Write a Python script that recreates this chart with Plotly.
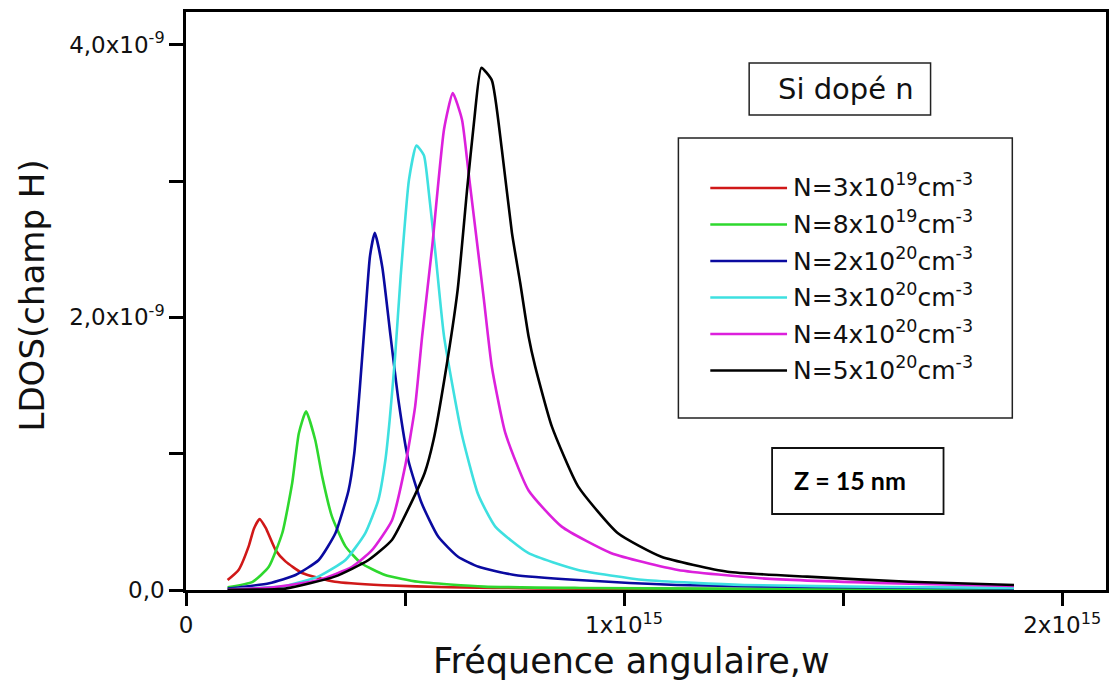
import plotly.graph_objects as go

# Angular frequency in units of 1e15 rad/s, LDOS in units of 1e-9
w_red = [0.095, 0.12, 0.143, 0.155, 0.168, 0.182, 0.205, 0.227, 0.265, 0.34, 0.45, 0.6, 0.8, 1.0, 1.4, 1.89]
ldos_red = [0.073, 0.147, 0.32, 0.45, 0.52, 0.455, 0.29, 0.21, 0.125, 0.06, 0.035, 0.02, 0.012, 0.008, 0.005, 0.003]

w_green = [0.095, 0.152, 0.189, 0.22, 0.2424, 0.2576, 0.274, 0.295, 0.311, 0.333, 0.364, 0.40, 0.4545, 0.53, 0.68, 0.9, 1.2, 1.89]
ldos_green = [0.02, 0.06, 0.17, 0.42, 0.785, 1.15, 1.31, 1.10, 0.83, 0.54, 0.32, 0.196, 0.11, 0.06, 0.025, 0.015, 0.01, 0.005]

w_blue = [0.095, 0.19, 0.25, 0.303, 0.341, 0.371, 0.384, 0.396, 0.409, 0.42, 0.431, 0.448, 0.467, 0.485, 0.5076, 0.538, 0.576, 0.621, 0.668, 0.75, 0.895, 1.12, 1.5, 1.89]
ldos_blue = [0.01, 0.05, 0.11, 0.22, 0.416, 0.73, 1.0, 1.45, 2.0, 2.45, 2.62, 2.37, 1.86, 1.39, 0.95, 0.636, 0.39, 0.244, 0.17, 0.11, 0.073, 0.037, 0.02, 0.012]

w_cyan = [0.095, 0.227, 0.303, 0.364, 0.409, 0.439, 0.455, 0.465, 0.477, 0.490, 0.509, 0.526, 0.543, 0.5545, 0.57, 0.589, 0.629, 0.667, 0.706, 0.782, 0.895, 1.047, 1.274, 1.6, 1.89]
ldos_cyan = [0.005, 0.03, 0.10, 0.22, 0.416, 0.66, 0.95, 1.25, 1.7, 2.3, 3.01, 3.26, 3.19, 2.91, 2.45, 1.86, 1.15, 0.70, 0.465, 0.27, 0.147, 0.073, 0.037, 0.022, 0.015]

w_magenta = [0.095, 0.2, 0.303, 0.379, 0.424, 0.47, 0.5, 0.523, 0.539, 0.562, 0.589, 0.609, 0.63, 0.645, 0.668, 0.68, 0.698, 0.729, 0.782, 0.8576, 0.971, 1.123, 1.312, 1.6, 1.89]
ldos_magenta = [0.003, 0.02, 0.073, 0.17, 0.29, 0.51, 0.905, 1.345, 1.86, 2.52, 3.38, 3.645, 3.45, 3.06, 2.45, 2.13, 1.64, 1.15, 0.73, 0.465, 0.27, 0.147, 0.086, 0.05, 0.03]

w_black = [0.095, 0.227, 0.341, 0.4167, 0.47, 0.523, 0.545, 0.565, 0.59, 0.62, 0.642, 0.658, 0.674, 0.698, 0.721, 0.744, 0.763, 0.782, 0.797, 0.835, 0.895, 0.986, 1.085, 1.236, 1.418, 1.65, 1.89]
ldos_black = [0.002, 0.01, 0.10, 0.22, 0.367, 0.70, 0.86, 1.1, 1.55, 2.2, 2.95, 3.45, 3.83, 3.74, 3.23, 2.62, 2.25, 1.86, 1.64, 1.20, 0.76, 0.416, 0.244, 0.134, 0.098, 0.06, 0.037]

series_names = [
    "N=3x10<sup>19</sup>cm<sup>-3</sup>",
    "N=8x10<sup>19</sup>cm<sup>-3</sup>",
    "N=2x10<sup>20</sup>cm<sup>-3</sup>",
    "N=3x10<sup>20</sup>cm<sup>-3</sup>",
    "N=4x10<sup>20</sup>cm<sup>-3</sup>",
    "N=5x10<sup>20</sup>cm<sup>-3</sup>",
]
series_colors = ["#d01818", "#2ed82e", "#0a0aa0", "#3ee0e0", "#dc20dc", "#000000"]
series_x = [w_red, w_green, w_blue, w_cyan, w_magenta, w_black]
series_y = [ldos_red, ldos_green, ldos_blue, ldos_cyan, ldos_magenta, ldos_black]

x_tickvals = [0, 1, 2]
x_ticktext = ["0", "1x10<sup>15</sup>", "2x10<sup>15</sup>"]
y_tickvals = [0, 2, 4]
y_ticktext = ["0,0", "2,0x10<sup>-9</sup>", "4,0x10<sup>-9</sup>"]

W, H = 1113, 686
ML, MR, MT, MB = 186, 4, 12, 96
PW, PH = W - ML - MR, H - MT - MB


def fx(p):
    """pixel column -> paper x"""
    return (p - ML) / PW


def fy(p):
    """pixel row -> paper y"""
    return (H - MB - p) / PH


FONT = "DejaVu Sans"

fig = go.Figure()
for xs, ys, name, col in zip(series_x, series_y, series_names, series_colors):
    fig.add_trace(go.Scatter(
        x=xs, y=ys, mode="lines", name=name, showlegend=False,
        line=dict(color=col, width=2.6, shape="spline", smoothing=0.5),
        hoverinfo="skip",
    ))

shapes = []
annotations = []

# legend frame with line samples
shapes.append(dict(type="rect", xref="paper", yref="paper",
                   x0=fx(680), x1=fx(1015), y0=fy(138), y1=fy(418),
                   line=dict(color="#222", width=1.5), fillcolor="white", layer="below"))
row0, dy = 188, 36.5
for i, (name, col) in enumerate(zip(series_names, series_colors)):
    yy = row0 + i * dy
    shapes.append(dict(type="line", xref="paper", yref="paper",
                       x0=fx(712), x1=fx(789), y0=fy(yy), y1=fy(yy),
                       line=dict(color=col, width=2.6)))
    annotations.append(dict(xref="paper", yref="paper", x=fx(793), y=fy(yy - 2),
                            xanchor="left", yanchor="middle", showarrow=False,
                            text=name, font=dict(family=FONT, size=25, color="#111")))

# "Si dopé n" label box
shapes.append(dict(type="rect", xref="paper", yref="paper",
                   x0=fx(751), x1=fx(933), y0=fy(63), y1=fy(115),
                   line=dict(color="#222", width=1.5)))
annotations.append(dict(xref="paper", yref="paper", x=fx(848), y=fy(89),
                        xanchor="center", yanchor="middle", showarrow=False,
                        text="Si dopé n", font=dict(family=FONT, size=29, color="#111")))

# "Z = 15 nm" label box
shapes.append(dict(type="rect", xref="paper", yref="paper",
                   x0=fx(774), x1=fx(946), y0=fy(448), y1=fy(514),
                   line=dict(color="#111", width=1.8)))
annotations.append(dict(xref="paper", yref="paper", x=fx(852), y=fy(480),
                        xanchor="center", yanchor="middle", showarrow=False,
                        text="<b>Z = 15 nm</b>", font=dict(family="Lato", size=25, color="#000")))

# axis titles
annotations.append(dict(xref="paper", yref="paper", x=fx(633), y=fy(661),
                        xanchor="center", yanchor="middle", showarrow=False,
                        text="Fréquence angulaire,w", font=dict(family=FONT, size=35, color="#111")))
annotations.append(dict(xref="paper", yref="paper", x=fx(31), y=fy(296),
                        xanchor="center", yanchor="middle", showarrow=False, textangle=-90,
                        text="LDOS(champ H)", font=dict(family=FONT, size=34, color="#111")))

fig.update_layout(
    width=W, height=H,
    margin=dict(l=ML, r=MR, t=MT, b=MB, pad=0),
    paper_bgcolor="white", plot_bgcolor="white",
    shapes=shapes, annotations=annotations,
    showlegend=False,
    xaxis=dict(range=[0, 2.1], tickvals=x_tickvals, ticktext=x_ticktext,
               showgrid=False, zeroline=False,
               showline=True, linecolor="black", linewidth=2.5, mirror=True,
               ticks="outside", ticklen=13, tickwidth=2.5, tickcolor="black",
               minor=dict(dtick=0.5, tick0=0, ticks="outside", ticklen=13,
                          tickwidth=2.5, tickcolor="black", showgrid=False),
               tickfont=dict(family=FONT, size=23, color="#111")),
    yaxis=dict(range=[0, 4.24], tickvals=y_tickvals, ticktext=y_ticktext,
               showgrid=False, zeroline=False,
               showline=True, linecolor="black", linewidth=2.5, mirror=True,
               ticks="outside", ticklen=14, tickwidth=2.5, tickcolor="black",
               minor=dict(dtick=1, tick0=0, ticks="outside", ticklen=14,
                          tickwidth=2.5, tickcolor="black", showgrid=False),
               tickfont=dict(family=FONT, size=23, color="#111")),
)

fig.write_html("out.html", config=dict(displayModeBar=False))
